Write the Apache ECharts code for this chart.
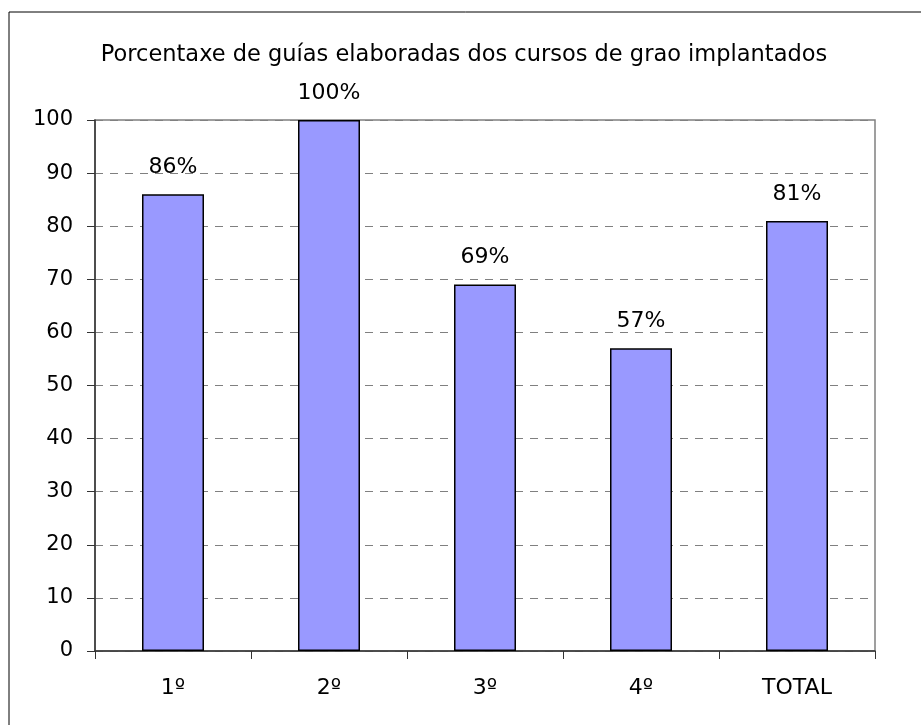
<!DOCTYPE html>
<html>
<head>
<meta charset="utf-8">
<script src="https://cdn.jsdelivr.net/npm/echarts@6/dist/echarts.min.js"></script>
<style>
  html, body { margin: 0; padding: 0; background: #fff; }
  #chart { width: 921px; height: 725px; }
</style>
</head>
<body>
<div id="chart"></div>
<script>
// datos
const categorias = ['1º', '2º', '3º', '4º', 'TOTAL']
const porcentaxes = [86, 100, 69, 57, 81]
const tituloTexto = 'Porcentaxe de guías elaboradas dos cursos de grao implantados'

const fonte = 'DejaVu Sans, sans-serif'

const chart = echarts.init(document.getElementById('chart'))

chart.setOption({
  animation: false,
  title: {
    text: tituloTexto,
    left: 464,
    top: 39,
    textAlign: 'center',
    textStyle: { fontFamily: fonte, fontSize: 22.5, fontWeight: 'normal', color: '#000' }
  },
  graphic: [{
    type: 'rect',
    shape: { x: 9, y: 12, width: 1000, height: 1000 },
    style: { fill: 'none', stroke: '#000', lineWidth: 1 },
    silent: true
  }],
  grid: {
    left: 95,
    right: 46,
    top: 120,
    bottom: 74,
    show: true,
    borderColor: '#808080',
    borderWidth: 1.5,
    backgroundColor: '#fff'
  },
  xAxis: {
    type: 'category',
    data: categorias,
    axisLine: { lineStyle: { color: '#333', width: 1.5 } },
    axisTick: { show: true, length: 8, lineStyle: { color: '#333' } },
    axisLabel: { fontFamily: fonte, fontSize: 22, color: '#000', margin: 26 }
  },
  yAxis: {
    type: 'value',
    min: 0,
    max: 100,
    interval: 10,
    axisLine: { show: true, lineStyle: { color: '#333', width: 1.5 } },
    axisTick: { show: true, length: 8, lineStyle: { color: '#333' } },
    axisLabel: { fontFamily: fonte, fontSize: 21, color: '#000', margin: 22 },
    splitLine: { lineStyle: { type: [8, 7], color: '#808080', width: 1 } }
  },
  series: [{
    type: 'bar',
    data: porcentaxes,
    barWidth: 62,
    itemStyle: { color: '#9999FF', borderColor: '#000', borderWidth: 1.5 },
    label: {
      show: true,
      position: 'top',
      distance: 16,
      formatter: '{c}%',
      fontFamily: fonte,
      fontSize: 22,
      color: '#000'
    }
  }]
})

// el título se centra a man, un pouco á esquerda
chart.setOption({ title: { left: 459 } })
</script>
</body>
</html>
